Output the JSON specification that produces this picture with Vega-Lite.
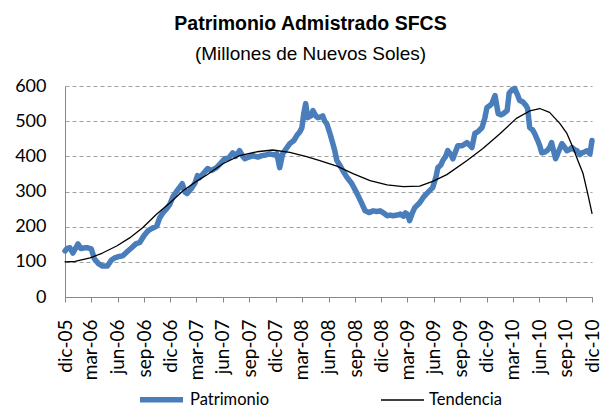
{
  "$schema": "https://vega.github.io/schema/vega-lite/v6.json",
  "autosize": {"type": "none"},
  "width": 527,
  "height": 211,
  "padding": {"left": 65, "top": 86, "right": 10, "bottom": 113},
  "background": "white",
  "title": {
    "text": "Patrimonio Admistrado SFCS",
    "subtitle": "(Millones de Nuevos Soles)",
    "font": "Liberation Sans",
    "fontSize": 19.5,
    "fontWeight": "bold",
    "color": "black",
    "subtitleFont": "Liberation Sans",
    "subtitleFontSize": 19,
    "subtitleColor": "black",
    "subtitlePadding": 11,
    "offset": 12,
    "anchor": "middle",
    "dx": -18
  },
  "data": {
    "values": [
      {"d":"2005-12-01","s":"Patrimonio","v":131},
      {"d":"2005-12-08","s":"Patrimonio","v":138},
      {"d":"2005-12-18","s":"Patrimonio","v":140},
      {"d":"2005-12-28","s":"Patrimonio","v":125},
      {"d":"2006-01-11","s":"Patrimonio","v":145},
      {"d":"2006-01-15","s":"Patrimonio","v":151},
      {"d":"2006-01-25","s":"Patrimonio","v":138},
      {"d":"2006-02-09","s":"Patrimonio","v":140},
      {"d":"2006-02-18","s":"Patrimonio","v":140},
      {"d":"2006-03-02","s":"Patrimonio","v":137},
      {"d":"2006-03-13","s":"Patrimonio","v":108},
      {"d":"2006-03-27","s":"Patrimonio","v":95},
      {"d":"2006-04-10","s":"Patrimonio","v":88},
      {"d":"2006-04-27","s":"Patrimonio","v":88},
      {"d":"2006-05-11","s":"Patrimonio","v":105},
      {"d":"2006-05-22","s":"Patrimonio","v":111},
      {"d":"2006-06-05","s":"Patrimonio","v":115},
      {"d":"2006-06-19","s":"Patrimonio","v":117},
      {"d":"2006-07-06","s":"Patrimonio","v":130},
      {"d":"2006-07-20","s":"Patrimonio","v":140},
      {"d":"2006-08-03","s":"Patrimonio","v":151},
      {"d":"2006-08-17","s":"Patrimonio","v":155},
      {"d":"2006-09-01","s":"Patrimonio","v":175},
      {"d":"2006-09-14","s":"Patrimonio","v":188},
      {"d":"2006-09-28","s":"Patrimonio","v":195},
      {"d":"2006-10-15","s":"Patrimonio","v":202},
      {"d":"2006-10-25","s":"Patrimonio","v":225},
      {"d":"2006-11-06","s":"Patrimonio","v":240},
      {"d":"2006-11-19","s":"Patrimonio","v":252},
      {"d":"2006-11-30","s":"Patrimonio","v":265},
      {"d":"2006-12-10","s":"Patrimonio","v":285},
      {"d":"2006-12-24","s":"Patrimonio","v":302},
      {"d":"2007-01-11","s":"Patrimonio","v":322},
      {"d":"2007-01-21","s":"Patrimonio","v":298},
      {"d":"2007-01-28","s":"Patrimonio","v":294},
      {"d":"2007-02-14","s":"Patrimonio","v":311},
      {"d":"2007-02-25","s":"Patrimonio","v":325},
      {"d":"2007-03-05","s":"Patrimonio","v":345},
      {"d":"2007-03-12","s":"Patrimonio","v":339},
      {"d":"2007-03-26","s":"Patrimonio","v":352},
      {"d":"2007-04-09","s":"Patrimonio","v":365},
      {"d":"2007-04-23","s":"Patrimonio","v":360},
      {"d":"2007-05-10","s":"Patrimonio","v":368},
      {"d":"2007-05-24","s":"Patrimonio","v":380},
      {"d":"2007-06-07","s":"Patrimonio","v":393},
      {"d":"2007-06-21","s":"Patrimonio","v":395},
      {"d":"2007-07-05","s":"Patrimonio","v":410},
      {"d":"2007-07-15","s":"Patrimonio","v":400},
      {"d":"2007-07-29","s":"Patrimonio","v":416},
      {"d":"2007-08-09","s":"Patrimonio","v":400},
      {"d":"2007-08-16","s":"Patrimonio","v":393},
      {"d":"2007-08-30","s":"Patrimonio","v":398},
      {"d":"2007-09-13","s":"Patrimonio","v":402},
      {"d":"2007-09-30","s":"Patrimonio","v":398},
      {"d":"2007-10-14","s":"Patrimonio","v":402},
      {"d":"2007-10-28","s":"Patrimonio","v":404},
      {"d":"2007-11-11","s":"Patrimonio","v":407},
      {"d":"2007-11-25","s":"Patrimonio","v":404},
      {"d":"2007-12-05","s":"Patrimonio","v":407},
      {"d":"2007-12-15","s":"Patrimonio","v":368},
      {"d":"2007-12-25","s":"Patrimonio","v":407},
      {"d":"2008-01-05","s":"Patrimonio","v":420},
      {"d":"2008-01-19","s":"Patrimonio","v":436},
      {"d":"2008-02-02","s":"Patrimonio","v":445},
      {"d":"2008-02-12","s":"Patrimonio","v":459},
      {"d":"2008-02-23","s":"Patrimonio","v":470},
      {"d":"2008-03-01","s":"Patrimonio","v":482},
      {"d":"2008-03-07","s":"Patrimonio","v":520},
      {"d":"2008-03-14","s":"Patrimonio","v":550},
      {"d":"2008-03-21","s":"Patrimonio","v":510},
      {"d":"2008-04-01","s":"Patrimonio","v":515},
      {"d":"2008-04-08","s":"Patrimonio","v":530},
      {"d":"2008-04-18","s":"Patrimonio","v":515},
      {"d":"2008-04-25","s":"Patrimonio","v":510},
      {"d":"2008-05-05","s":"Patrimonio","v":512},
      {"d":"2008-05-12","s":"Patrimonio","v":515},
      {"d":"2008-05-19","s":"Patrimonio","v":500},
      {"d":"2008-05-26","s":"Patrimonio","v":493},
      {"d":"2008-06-06","s":"Patrimonio","v":465},
      {"d":"2008-06-13","s":"Patrimonio","v":445},
      {"d":"2008-06-23","s":"Patrimonio","v":415},
      {"d":"2008-06-30","s":"Patrimonio","v":388},
      {"d":"2008-07-10","s":"Patrimonio","v":375},
      {"d":"2008-07-21","s":"Patrimonio","v":359},
      {"d":"2008-08-04","s":"Patrimonio","v":340},
      {"d":"2008-08-21","s":"Patrimonio","v":322},
      {"d":"2008-09-08","s":"Patrimonio","v":294},
      {"d":"2008-09-25","s":"Patrimonio","v":265},
      {"d":"2008-10-06","s":"Patrimonio","v":245},
      {"d":"2008-10-19","s":"Patrimonio","v":240},
      {"d":"2008-11-03","s":"Patrimonio","v":245},
      {"d":"2008-11-16","s":"Patrimonio","v":243},
      {"d":"2008-11-27","s":"Patrimonio","v":245},
      {"d":"2008-12-11","s":"Patrimonio","v":238},
      {"d":"2008-12-21","s":"Patrimonio","v":231},
      {"d":"2009-01-01","s":"Patrimonio","v":233},
      {"d":"2009-01-11","s":"Patrimonio","v":231},
      {"d":"2009-01-25","s":"Patrimonio","v":233},
      {"d":"2009-02-05","s":"Patrimonio","v":236},
      {"d":"2009-02-16","s":"Patrimonio","v":230},
      {"d":"2009-02-22","s":"Patrimonio","v":239},
      {"d":"2009-03-02","s":"Patrimonio","v":235},
      {"d":"2009-03-09","s":"Patrimonio","v":217},
      {"d":"2009-03-19","s":"Patrimonio","v":240},
      {"d":"2009-03-27","s":"Patrimonio","v":254},
      {"d":"2009-04-13","s":"Patrimonio","v":268},
      {"d":"2009-04-27","s":"Patrimonio","v":285},
      {"d":"2009-05-07","s":"Patrimonio","v":294},
      {"d":"2009-05-28","s":"Patrimonio","v":311},
      {"d":"2009-06-08","s":"Patrimonio","v":340},
      {"d":"2009-06-15","s":"Patrimonio","v":368},
      {"d":"2009-06-25","s":"Patrimonio","v":375},
      {"d":"2009-07-02","s":"Patrimonio","v":388},
      {"d":"2009-07-12","s":"Patrimonio","v":400},
      {"d":"2009-07-19","s":"Patrimonio","v":416},
      {"d":"2009-07-30","s":"Patrimonio","v":405},
      {"d":"2009-08-06","s":"Patrimonio","v":393},
      {"d":"2009-08-16","s":"Patrimonio","v":415},
      {"d":"2009-08-23","s":"Patrimonio","v":430},
      {"d":"2009-09-07","s":"Patrimonio","v":430},
      {"d":"2009-09-24","s":"Patrimonio","v":439},
      {"d":"2009-10-11","s":"Patrimonio","v":425},
      {"d":"2009-10-21","s":"Patrimonio","v":465},
      {"d":"2009-11-01","s":"Patrimonio","v":470},
      {"d":"2009-11-15","s":"Patrimonio","v":482},
      {"d":"2009-11-25","s":"Patrimonio","v":510},
      {"d":"2009-12-02","s":"Patrimonio","v":539},
      {"d":"2009-12-13","s":"Patrimonio","v":545},
      {"d":"2009-12-19","s":"Patrimonio","v":550},
      {"d":"2009-12-30","s":"Patrimonio","v":573},
      {"d":"2010-01-10","s":"Patrimonio","v":521},
      {"d":"2010-01-20","s":"Patrimonio","v":518},
      {"d":"2010-01-27","s":"Patrimonio","v":521},
      {"d":"2010-02-10","s":"Patrimonio","v":530},
      {"d":"2010-02-17","s":"Patrimonio","v":580},
      {"d":"2010-02-28","s":"Patrimonio","v":590},
      {"d":"2010-03-08","s":"Patrimonio","v":593},
      {"d":"2010-03-18","s":"Patrimonio","v":575},
      {"d":"2010-03-25","s":"Patrimonio","v":559},
      {"d":"2010-04-05","s":"Patrimonio","v":555},
      {"d":"2010-04-16","s":"Patrimonio","v":545},
      {"d":"2010-04-22","s":"Patrimonio","v":536},
      {"d":"2010-04-29","s":"Patrimonio","v":482},
      {"d":"2010-05-09","s":"Patrimonio","v":475},
      {"d":"2010-05-16","s":"Patrimonio","v":465},
      {"d":"2010-05-27","s":"Patrimonio","v":445},
      {"d":"2010-06-03","s":"Patrimonio","v":430},
      {"d":"2010-06-10","s":"Patrimonio","v":410},
      {"d":"2010-06-20","s":"Patrimonio","v":412},
      {"d":"2010-06-28","s":"Patrimonio","v":416},
      {"d":"2010-07-07","s":"Patrimonio","v":425},
      {"d":"2010-07-14","s":"Patrimonio","v":439},
      {"d":"2010-07-21","s":"Patrimonio","v":415},
      {"d":"2010-07-28","s":"Patrimonio","v":393},
      {"d":"2010-08-08","s":"Patrimonio","v":415},
      {"d":"2010-08-19","s":"Patrimonio","v":436},
      {"d":"2010-08-29","s":"Patrimonio","v":425},
      {"d":"2010-09-05","s":"Patrimonio","v":416},
      {"d":"2010-09-16","s":"Patrimonio","v":420},
      {"d":"2010-09-22","s":"Patrimonio","v":425},
      {"d":"2010-10-03","s":"Patrimonio","v":418},
      {"d":"2010-10-10","s":"Patrimonio","v":416},
      {"d":"2010-10-20","s":"Patrimonio","v":405},
      {"d":"2010-10-27","s":"Patrimonio","v":410},
      {"d":"2010-11-07","s":"Patrimonio","v":413},
      {"d":"2010-11-14","s":"Patrimonio","v":416},
      {"d":"2010-11-24","s":"Patrimonio","v":407},
      {"d":"2010-12-01","s":"Patrimonio","v":445},
      {"d":"2005-12-01","s":"Tendencia","v":100},
      {"d":"2006-01-05","s":"Tendencia","v":101},
      {"d":"2006-02-26","s":"Tendencia","v":111},
      {"d":"2006-04-10","s":"Tendencia","v":125},
      {"d":"2006-05-29","s":"Tendencia","v":145},
      {"d":"2006-07-13","s":"Tendencia","v":168},
      {"d":"2006-08-27","s":"Tendencia","v":197},
      {"d":"2006-10-15","s":"Tendencia","v":236},
      {"d":"2006-11-30","s":"Tendencia","v":268},
      {"d":"2007-01-14","s":"Tendencia","v":302},
      {"d":"2007-03-05","s":"Tendencia","v":331},
      {"d":"2007-04-06","s":"Tendencia","v":347},
      {"d":"2007-06-01","s":"Tendencia","v":379},
      {"d":"2007-07-29","s":"Tendencia","v":402},
      {"d":"2007-09-27","s":"Tendencia","v":413},
      {"d":"2007-11-21","s":"Tendencia","v":418},
      {"d":"2008-01-19","s":"Tendencia","v":411},
      {"d":"2008-03-17","s":"Tendencia","v":399},
      {"d":"2008-05-02","s":"Tendencia","v":388},
      {"d":"2008-06-30","s":"Tendencia","v":372},
      {"d":"2008-08-25","s":"Tendencia","v":351},
      {"d":"2008-10-23","s":"Tendencia","v":331},
      {"d":"2008-12-21","s":"Tendencia","v":319},
      {"d":"2009-02-15","s":"Tendencia","v":314},
      {"d":"2009-04-13","s":"Tendencia","v":315},
      {"d":"2009-05-28","s":"Tendencia","v":329},
      {"d":"2009-07-16","s":"Tendencia","v":348},
      {"d":"2009-09-24","s":"Tendencia","v":388},
      {"d":"2009-11-18","s":"Tendencia","v":422},
      {"d":"2010-01-17","s":"Tendencia","v":465},
      {"d":"2010-03-14","s":"Tendencia","v":508},
      {"d":"2010-04-29","s":"Tendencia","v":529},
      {"d":"2010-06-03","s":"Tendencia","v":536},
      {"d":"2010-07-07","s":"Tendencia","v":525},
      {"d":"2010-08-12","s":"Tendencia","v":493},
      {"d":"2010-09-05","s":"Tendencia","v":465},
      {"d":"2010-09-26","s":"Tendencia","v":425},
      {"d":"2010-10-13","s":"Tendencia","v":388},
      {"d":"2010-10-31","s":"Tendencia","v":351},
      {"d":"2010-11-14","s":"Tendencia","v":302},
      {"d":"2010-11-24","s":"Tendencia","v":265},
      {"d":"2010-12-01","s":"Tendencia","v":238}
    ]
  },
  "mark": {"type": "line", "strokeJoin": "round", "strokeCap": "round"},
  "encoding": {
    "x": {
      "field": "d",
      "type": "temporal",
      "scale": {
        "type": "utc",
        "domain": [
          {"year": 2005, "month": 12, "date": 1, "utc": true},
          {"year": 2010, "month": 12, "date": 1, "utc": true}
        ]
      },
      "axis": {
        "title": null,
        "values": [
          {"year": 2005, "month": 12, "date": 1, "utc": true},
          {"year": 2006, "month": 3, "date": 1, "utc": true},
          {"year": 2006, "month": 6, "date": 1, "utc": true},
          {"year": 2006, "month": 9, "date": 1, "utc": true},
          {"year": 2006, "month": 12, "date": 1, "utc": true},
          {"year": 2007, "month": 3, "date": 1, "utc": true},
          {"year": 2007, "month": 6, "date": 1, "utc": true},
          {"year": 2007, "month": 9, "date": 1, "utc": true},
          {"year": 2007, "month": 12, "date": 1, "utc": true},
          {"year": 2008, "month": 3, "date": 1, "utc": true},
          {"year": 2008, "month": 6, "date": 1, "utc": true},
          {"year": 2008, "month": 9, "date": 1, "utc": true},
          {"year": 2008, "month": 12, "date": 1, "utc": true},
          {"year": 2009, "month": 3, "date": 1, "utc": true},
          {"year": 2009, "month": 6, "date": 1, "utc": true},
          {"year": 2009, "month": 9, "date": 1, "utc": true},
          {"year": 2009, "month": 12, "date": 1, "utc": true},
          {"year": 2010, "month": 3, "date": 1, "utc": true},
          {"year": 2010, "month": 6, "date": 1, "utc": true},
          {"year": 2010, "month": 9, "date": 1, "utc": true},
          {"year": 2010, "month": 12, "date": 1, "utc": true}
        ],
        "labelExpr": "['ene','feb','mar','abr','may','jun','jul','ago','sep','oct','nov','dic'][utcmonth(datum.value)] + '-' + utcFormat(datum.value, '%y')",
        "labelAngle": -90,
        "labelFont": "Lato",
        "labelFontSize": 19,
        "labelColor": "black",
        "labelPadding": 17,
        "labelOverlap": false,
        "labelFlush": false,
        "labelBound": false,
        "grid": false,
        "domainColor": "#888888",
        "tickColor": "#888888",
        "tickSize": 5
      }
    },
    "y": {
      "field": "v",
      "type": "quantitative",
      "scale": {"domain": [0, 600], "nice": false},
      "axis": {
        "title": null,
        "values": [0, 100, 200, 300, 400, 500, 600],
        "labelFont": "Lato",
        "labelFontSize": 18,
        "labelColor": "black",
        "labelPadding": 19,
        "ticks": false,
        "domainColor": "#888888",
        "grid": true,
        "gridColor": "#a0a0a0",
        "gridDash": [4, 3],
        "gridWidth": 1
      }
    },
    "color": {
      "field": "s",
      "type": "nominal",
      "scale": {"domain": ["Patrimonio", "Tendencia"], "range": ["#4a7ebb", "#000000"]},
      "legend": {
        "title": null,
        "orient": "none",
        "legendX": 72,
        "legendY": 289,
        "padding": 0,
        "direction": "horizontal",
        "symbolType": "stroke",
        "symbolSize": 1849,
        "labelFont": "Lato",
        "labelFontSize": 16.5,
        "labelColor": "black",
        "labelOffset": 4,
        "columnPadding": 108
      }
    },
    "strokeWidth": {
      "field": "s",
      "type": "nominal",
      "scale": {"domain": ["Patrimonio", "Tendencia"], "range": [5.5, 1.3]},
      "legend": {
        "title": null,
        "orient": "none",
        "legendX": 72,
        "legendY": 289,
        "padding": 0,
        "direction": "horizontal",
        "symbolType": "stroke",
        "symbolSize": 1849,
        "labelFont": "Lato",
        "labelFontSize": 16.5,
        "labelColor": "black",
        "labelOffset": 4,
        "columnPadding": 108
      }
    }
  },
  "config": {
    "view": {"stroke": null}
  }
}
